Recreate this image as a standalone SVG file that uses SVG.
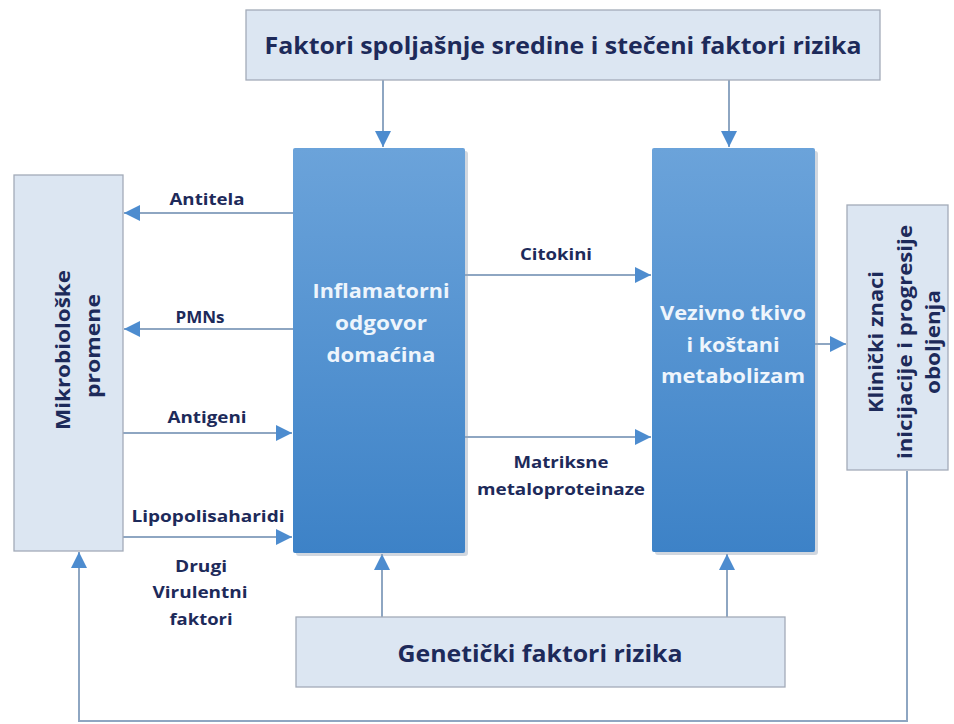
<svg xmlns="http://www.w3.org/2000/svg" width="954" height="724" viewBox="0 0 954 724">
<style>
.lbox{fill:#dce6f2;stroke:#a3abb8;stroke-width:1.3}
.bbox{fill:url(#bg)}
.sh{fill:#9aa7b8;opacity:0.45}
.t{font-family:"Open Sans","Noto Sans","Liberation Sans",sans-serif;font-weight:700;fill:#1d2a5a;text-anchor:middle}
.w{font-family:"Open Sans","Noto Sans","Liberation Sans",sans-serif;font-weight:700;fill:#eef5fc;text-anchor:middle}
.c{fill:none;stroke:#8ea6c2;stroke-width:2}
.a{marker-end:url(#ah)}
</style>
<defs>
<linearGradient id="bg" x1="0" y1="0" x2="0" y2="1">
<stop offset="0" stop-color="#6ba3da"/>
<stop offset="1" stop-color="#3d82c7"/>
</linearGradient>
<marker id="ah" viewBox="0 0 16 16" refX="16" refY="8" markerWidth="16" markerHeight="16" markerUnits="userSpaceOnUse" orient="auto">
<path d="M0,0 L16,8 L0,16 z" fill="#4d8ccf"/>
</marker>
</defs>
<rect width="954" height="724" fill="#ffffff"/>

<g id="connectors">
<path class="c a" d="M383,80 V147"/>
<path class="c a" d="M729,80 V147"/>
<path class="c a" d="M293,213 H124"/>
<path class="c a" d="M293,329 H124"/>
<path class="c a" d="M123,433 H292"/>
<path class="c a" d="M123,537 H292"/>
<path class="c a" d="M465,275 H651"/>
<path class="c a" d="M465,437 H651"/>
<path class="c a" d="M815,344 H846"/>
<path class="c a" d="M382,617 V554"/>
<path class="c a" d="M727,617 V554"/>
<path class="c a" d="M907,471 V721 H79 V552"/>
</g>

<g id="labels">
<text class="t" x="207" y="205" font-size="16" textLength="75" lengthAdjust="spacingAndGlyphs">Antitela</text>
<text class="t" x="200" y="323" font-size="16" textLength="49" lengthAdjust="spacingAndGlyphs">PMNs</text>
<text class="t" x="207" y="423" font-size="16" textLength="79" lengthAdjust="spacingAndGlyphs">Antigeni</text>
<text class="t" x="208" y="522" font-size="16" textLength="153" lengthAdjust="spacingAndGlyphs">Lipopolisaharidi</text>
<text class="t" x="201" y="572" font-size="16" textLength="52" lengthAdjust="spacingAndGlyphs">Drugi</text>
<text class="t" x="200" y="598" font-size="16" textLength="95" lengthAdjust="spacingAndGlyphs">Virulentni</text>
<text class="t" x="201" y="625" font-size="16" textLength="63" lengthAdjust="spacingAndGlyphs">faktori</text>
<text class="t" x="556" y="260" font-size="16" textLength="72" lengthAdjust="spacingAndGlyphs">Citokini</text>
<text class="t" x="561" y="468" font-size="16" textLength="95" lengthAdjust="spacingAndGlyphs">Matriksne</text>
<text class="t" x="561" y="495" font-size="16" textLength="168" lengthAdjust="spacingAndGlyphs">metaloproteinaze</text>
</g>

<g id="spoljasnji">
<rect class="lbox" x="246" y="10" width="634" height="70"/>
<text class="t" x="563" y="54" font-size="24" textLength="597" lengthAdjust="spacingAndGlyphs">Faktori spoljašnje sredine i stečeni faktori rizika</text>
</g>

<g id="inflamatorni">
<rect class="sh" x="296" y="151" width="172" height="405" rx="3"/>
<rect class="bbox" x="293" y="148" width="172" height="405" rx="2"/>
<text class="w" x="381" y="298" font-size="20" textLength="137" lengthAdjust="spacingAndGlyphs">Inflamatorni</text>
<text class="w" x="381" y="330" font-size="20" textLength="92" lengthAdjust="spacingAndGlyphs">odgovor</text>
<text class="w" x="381" y="362" font-size="20" textLength="109" lengthAdjust="spacingAndGlyphs">domaćina</text>
</g>

<g id="vezivno">
<rect class="sh" x="655" y="151" width="163" height="404" rx="3"/>
<rect class="bbox" x="652" y="148" width="163" height="404" rx="2"/>
<text class="w" x="733" y="320" font-size="20" textLength="146" lengthAdjust="spacingAndGlyphs">Vezivno tkivo</text>
<text class="w" x="733" y="352" font-size="20" textLength="93" lengthAdjust="spacingAndGlyphs">i koštani</text>
<text class="w" x="733" y="383" font-size="20" textLength="144" lengthAdjust="spacingAndGlyphs">metabolizam</text>
</g>

<g id="mikrobioloske">
<rect class="lbox" x="14" y="175" width="109" height="376"/>
<text class="t" font-size="20" transform="translate(70,350) rotate(-90)" textLength="160" lengthAdjust="spacingAndGlyphs">Mikrobiološke</text>
<text class="t" font-size="20" transform="translate(100,346) rotate(-90)" textLength="104" lengthAdjust="spacingAndGlyphs">promene</text>
</g>

<g id="klinicki">
<rect class="lbox" x="847" y="205" width="101" height="265"/>
<text class="t" font-size="20" transform="translate(883,342) rotate(-90)" textLength="142" lengthAdjust="spacingAndGlyphs">Klinički znaci</text>
<text class="t" font-size="20" transform="translate(912,342) rotate(-90)" textLength="234" lengthAdjust="spacingAndGlyphs">inicijacije i progresije</text>
<text class="t" font-size="20" transform="translate(940,342) rotate(-90)" textLength="104" lengthAdjust="spacingAndGlyphs">oboljenja</text>
</g>

<g id="geneticki">
<rect class="lbox" x="296" y="617" width="489" height="70"/>
<text class="t" x="540" y="662" font-size="24" textLength="285" lengthAdjust="spacingAndGlyphs">Genetički faktori rizika</text>
</g>
</svg>
